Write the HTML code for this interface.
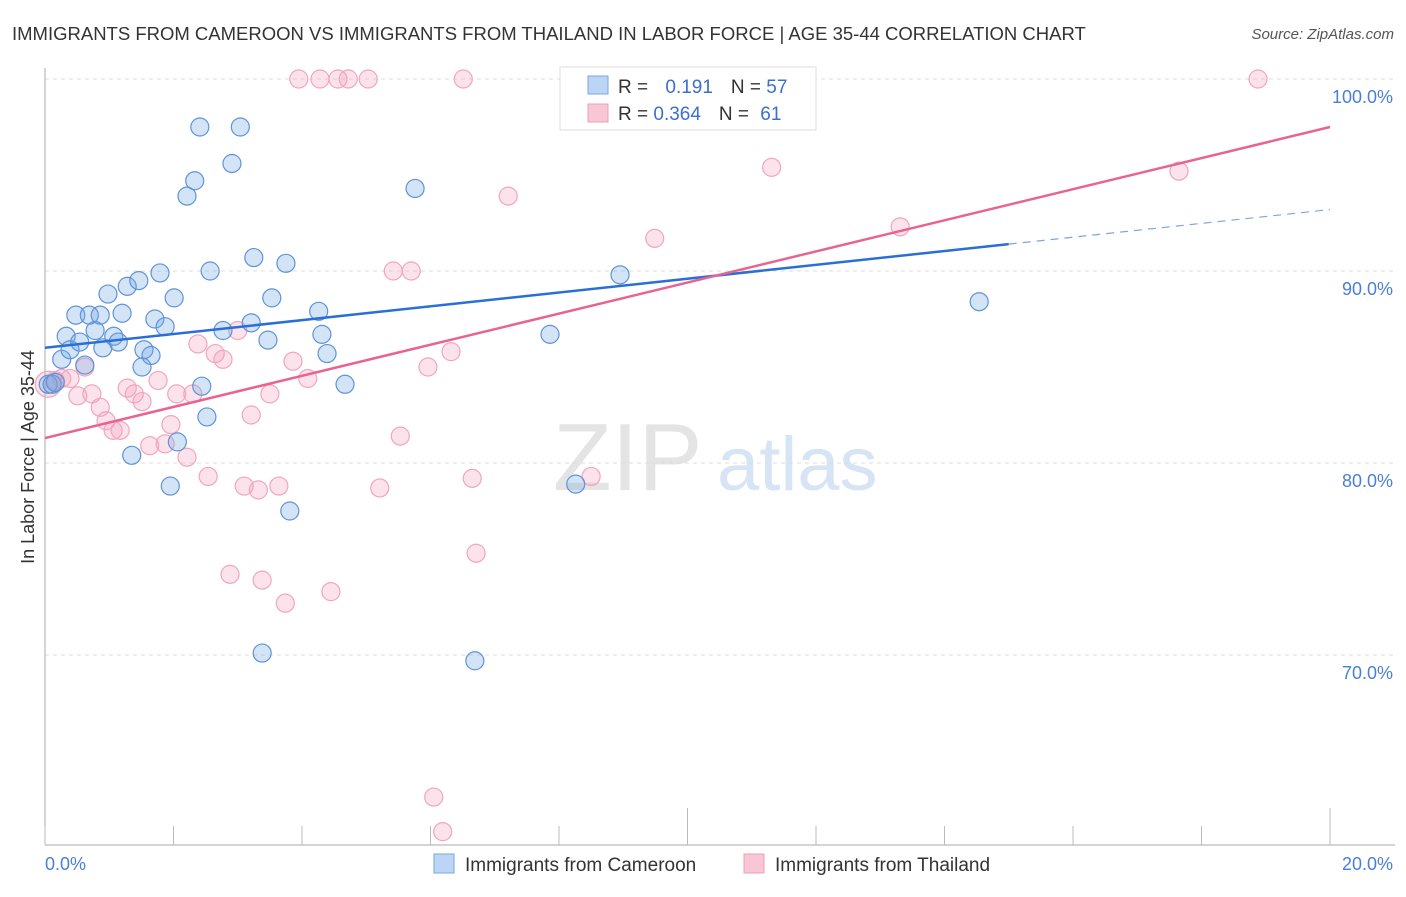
<!DOCTYPE html>
<html><head><meta charset="utf-8"><style>
body{margin:0;background:#fff;font-family:"Liberation Sans",sans-serif}
svg text{font-family:"Liberation Sans",sans-serif}
</style></head><body>
<svg id="c" width="1406" height="892" xmlns="http://www.w3.org/2000/svg">
<text x="12" y="40" font-size="18.5" fill="#333">IMMIGRANTS FROM CAMEROON VS IMMIGRANTS FROM THAILAND IN LABOR FORCE | AGE 35-44 CORRELATION CHART</text>
<text x="1394" y="39" font-size="15" fill="#555" font-style="italic" text-anchor="end">Source: ZipAtlas.com</text>
<g>
<text x="553" y="490" font-size="96" fill="#e4e4e4" font-family="Liberation Serif,serif">ZIP</text>
<text x="717" y="490" font-size="76" fill="#d6e4f5">atlas</text>
</g>
<g id="grid"></g>
<g id="axes"></g>
<g id="pts"></g>
<g id="trends"></g>
<text transform="translate(34,457) rotate(-90)" font-size="18" fill="#333" text-anchor="middle">In Labor Force | Age 35-44</text>
<g>
<rect x="560" y="67" width="256" height="63" fill="#fff" stroke="#ddd"/>
<rect x="588" y="76" width="20" height="18" fill="#bcd5f5" stroke="#7aa6e0"/>
<rect x="588" y="104" width="20" height="18" fill="#f9c6d5" stroke="#ee9fb8"/>
<text x="618" y="93" font-size="19" fill="#333">R = <tspan fill="#3a6fd0" dx="12">0.191</tspan><tspan dx="18">N = </tspan><tspan fill="#3a6fd0">57</tspan></text>
<text x="618" y="120" font-size="19" fill="#333">R = <tspan fill="#3a6fd0">0.364</tspan><tspan dx="18">N = </tspan><tspan fill="#3a6fd0" dx="6">61</tspan></text>
</g>
<g>
<rect x="434" y="854" width="20" height="19" fill="#bcd5f5" stroke="#7aa6e0"/>
<text x="465" y="871" font-size="19" fill="#333">Immigrants from Cameroon</text>
<rect x="744" y="854" width="20" height="19" fill="#f9c6d5" stroke="#ee9fb8"/>
<text x="775" y="871" font-size="19" fill="#333">Immigrants from Thailand</text>
</g>
</svg>
<script>
const yTicks=[100,90,80,70];
const yTickLabels=["100.0%","90.0%","80.0%","70.0%"];
const xTickLabels=["0.0%","20.0%"];
const blueX=[0.05,0.11,0.16,0.26,0.33,0.39,0.48,0.54,0.62,0.69,0.78,0.86,0.90,0.98,1.07,1.14,1.20,1.28,1.35,1.46,1.54,1.65,1.51,1.71,1.79,1.87,1.95,2.01,2.06,2.21,2.33,2.41,2.44,2.52,2.57,2.77,2.91,3.04,3.21,3.25,3.38,3.47,3.53,3.75,3.81,4.26,4.31,4.39,4.67,5.76,6.69,7.86,8.26,8.95,11.64,14.54];
const blueY=[84.1,84.1,84.2,85.4,86.6,85.9,87.7,86.3,85.1,87.7,86.9,87.7,86.0,88.8,86.6,86.3,87.8,89.2,80.4,89.5,85.9,85.6,85.0,87.5,89.9,87.1,78.8,88.6,81.1,93.9,94.7,97.5,84.0,82.4,90.0,86.9,95.6,97.5,87.3,90.7,70.1,86.4,88.6,90.4,77.5,87.9,86.7,85.7,84.1,94.3,69.7,86.7,78.9,89.8,99.9,88.4];
const pinkX=[0.05,0.16,0.26,0.39,0.51,0.62,0.73,0.86,0.95,1.06,1.17,1.28,1.39,1.51,1.63,1.76,1.87,1.96,2.05,2.21,2.30,2.38,2.54,2.65,2.77,2.88,3.00,3.10,3.21,3.32,3.38,3.50,3.64,3.74,3.86,3.95,4.09,4.28,4.45,4.56,4.72,5.03,5.21,5.42,5.53,5.70,5.96,6.05,6.19,6.32,6.51,6.65,6.71,7.21,8.50,9.49,9.44,11.31,13.31,17.65,18.88];
const pinkY=[84.1,84.3,84.4,84.4,83.5,85.0,83.6,82.9,82.2,81.7,81.7,83.9,83.6,83.2,80.9,84.3,81.0,82.0,83.6,80.3,83.6,86.2,79.3,85.7,85.4,74.2,86.9,78.8,82.5,78.6,73.9,83.6,78.8,72.7,85.3,100,84.4,100,73.3,100,100,100,78.7,90.0,81.4,90.0,85.0,62.6,60.8,85.8,100,79.2,75.3,93.9,79.3,91.7,100,95.4,92.3,95.2,100];
const blueTrend=[[0,86.0],[15.0,91.4]];
const blueTrendExt=[[15.0,91.4],[20,93.2]];
const pinkTrend=[[0,81.3],[20,97.5]];
const X=v=>45+v*64.25, Y=v=>79+(100-v)*19.2;
const NS="http://www.w3.org/2000/svg";
function mk(t,a,p){const e=document.createElementNS(NS,t);for(const k in a)e.setAttribute(k,a[k]);p.appendChild(e);return e;}
const grid=document.getElementById('grid'),axes=document.getElementById('axes'),pts=document.getElementById('pts'),tr=document.getElementById('trends');
yTicks.forEach((t,i)=>{
 const l=mk('line',{x1:45,x2:1393,y1:Y(t),y2:Y(t),stroke:'#ddd','stroke-dasharray':'4,4'},grid);
 
 
 const tx=mk('text',{x:1393,y:Y(t)+24,'font-size':18,fill:'#4a7fd6','text-anchor':'end'},axes);
 tx.textContent=yTickLabels[i];
 
 
});
let a=mk('line',{x1:45,x2:45,y1:68,y2:845,stroke:'#aaa'},axes);


a=mk('line',{x1:45,x2:1395,y1:845,y2:845,stroke:'#aaa'},axes);


for(let k=0;k<=10;k++){
 const tk=mk('line',{x1:X(k*2),x2:X(k*2),y1:(k==5||k==10)?808:826,y2:845,stroke:'#bbb'},axes);
 
 
}
let t0=mk('text',{x:45,y:870,'font-size':18,fill:'#4a7fd6'},axes);t0.textContent=xTickLabels[0];


let t1=mk('text',{x:1393,y:870,'font-size':18,fill:'#4a7fd6','text-anchor':'end'},axes);t1.textContent=xTickLabels[1];


pinkX.forEach((v,i)=>{
 const c=mk('circle',{cx:X(v),cy:Y(pinkY[i]),r:i==0?13:9,fill:'rgba(244,160,188,0.3)',stroke:'#f0a6bd','stroke-width':1.2},pts);
 
 
});
blueX.forEach((v,i)=>{
 const c=mk('circle',{cx:X(v),cy:Y(blueY[i]),r:9,fill:'rgba(110,165,230,0.3)',stroke:'#5f93d8','stroke-width':1.2},pts);
 
 
});
let l=mk('line',{x1:X(blueTrend[0][0]),y1:Y(blueTrend[0][1]),x2:X(blueTrend[1][0]),y2:Y(blueTrend[1][1]),stroke:'#2a6fd6','stroke-width':2.5},tr);


l=mk('line',{x1:X(blueTrendExt[0][0]),y1:Y(blueTrendExt[0][1]),x2:X(blueTrendExt[1][0]),y2:Y(blueTrendExt[1][1]),stroke:'#7fa6d8','stroke-width':1.2,'stroke-dasharray':'8,6'},tr);


l=mk('line',{x1:X(pinkTrend[0][0]),y1:Y(pinkTrend[0][1]),x2:X(pinkTrend[1][0]),y2:Y(pinkTrend[1][1]),stroke:'#e8638f','stroke-width':2.5},tr);


</script>
</body></html>
